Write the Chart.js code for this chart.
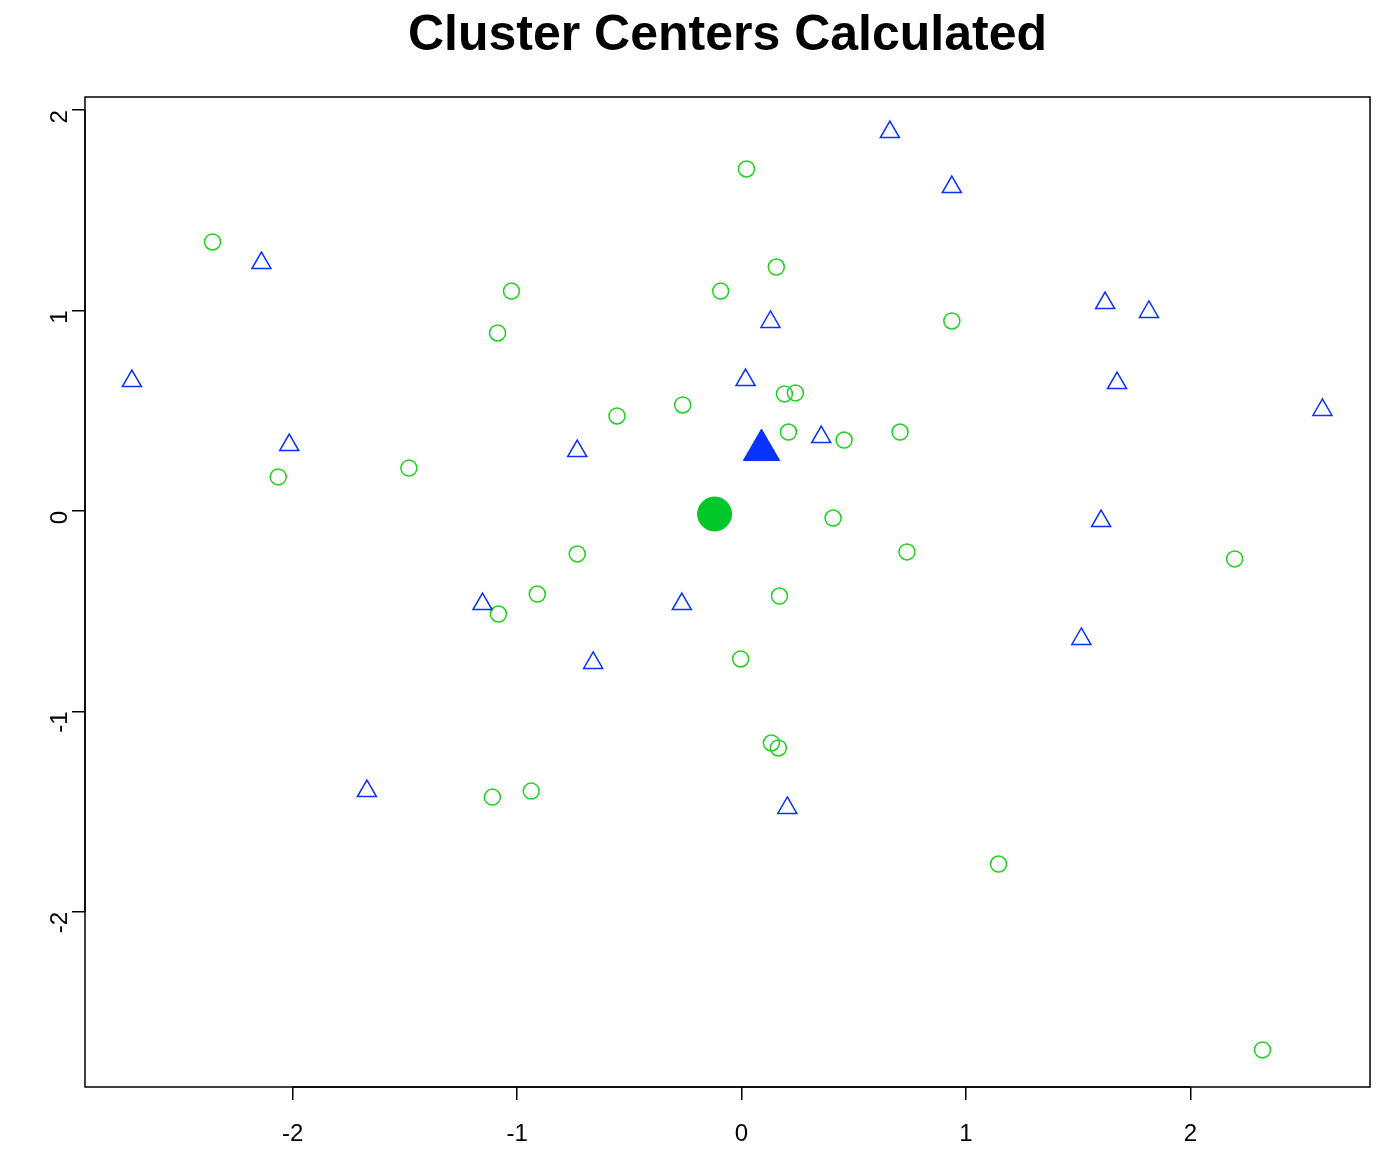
<!DOCTYPE html>
<html><head><meta charset="utf-8">
<script src="https://cdn.jsdelivr.net/npm/chart.js@4/dist/chart.umd.min.js"></script>
<style>html,body{margin:0;padding:0;background:#fff}#w{width:1392px;height:1154px}</style>
</head><body><div id="w"><canvas id="c"></canvas></div>
<script>
const titleText = "Cluster Centers Calculated";
const tickValues = [-2, -1, 0, 1, 2];
const triX = [-2.716,-2.139,-2.015,-1.669,-1.154,-0.732,-0.661,-0.266,0.018,0.129,0.204,0.355,0.661,0.937,1.620,1.815,1.673,2.588,1.602,1.514];
const triY = [0.648,1.237,0.329,-1.397,-0.464,0.299,-0.758,-0.464,0.653,0.943,-1.481,0.369,1.890,1.616,1.037,0.993,0.638,0.504,-0.05,-0.638];
const cirX = [-2.357,-2.064,-1.482,-1.025,-1.087,-0.555,-0.262,0.022,0.155,-0.093,0.191,0.240,0.209,0.457,0.706,0.937,0.408,0.737,-0.732,-0.910,-1.083,0.169,-0.004,0.133,0.164,-0.937,-1.110,1.145,2.197,2.321];
const cirY = [1.342,0.170,0.214,1.097,0.888,0.474,0.529,1.706,1.217,1.097,0.584,0.589,0.394,0.354,0.394,0.948,-0.035,-0.204,-0.214,-0.414,-0.514,-0.424,-0.738,-1.157,-1.182,-1.397,-1.427,-1.761,-0.239,-2.688];
const centerTri = [0.089, 0.304];
const centerCir = [-0.120, -0.015];
const pts = (xs, ys) => xs.map((x, i) => ({x, y: ys[i]}));
const BLUE = '#0a32ff', GREEN = '#1ed21e';

const deco = {
  id: 'deco',
  afterDraw(ch) {
    const c = ch.ctx, a = ch.chartArea;
    c.save();
    c.strokeStyle = '#000'; c.lineWidth = 1.5;
    c.strokeRect(a.left, a.top, a.right - a.left, a.bottom - a.top);
    const xs = ch.scales.x, ys = ch.scales.y;
    c.beginPath();
    c.moveTo(xs.getPixelForValue(-2), a.bottom); c.lineTo(xs.getPixelForValue(2), a.bottom);
    c.moveTo(a.left, ys.getPixelForValue(-2)); c.lineTo(a.left, ys.getPixelForValue(2));
    c.stroke();
    c.fillStyle = '#000';
    c.font = 'bold 50px "Liberation Sans", Arial, sans-serif';
    c.textAlign = 'center'; c.textBaseline = 'middle';
    c.fillText(titleText, (a.left + a.right) / 2, 36);
    c.restore();
  }
};

new Chart(document.getElementById('c'), {
  type: 'scatter',
  data: { datasets: [
    { data: pts(triX, triY), pointStyle: 'triangle', pointRadius: 11, borderColor: BLUE, backgroundColor: 'rgba(0,0,0,0)', borderWidth: 1.5 },
    { data: pts(cirX, cirY), pointStyle: 'circle', pointRadius: 8, borderColor: GREEN, backgroundColor: 'rgba(0,0,0,0)', borderWidth: 1.5 },
    { data: [{x: centerTri[0], y: centerTri[1]}], pointStyle: 'triangle', pointRadius: 21, borderColor: BLUE, backgroundColor: BLUE, borderWidth: 1 },
    { data: [{x: centerCir[0], y: centerCir[1]}], pointStyle: 'circle', pointRadius: 17, borderColor: '#00c82a', backgroundColor: '#00c82a', borderWidth: 1 }
  ]},
  options: {
    responsive: true, maintainAspectRatio: false, animation: false,
    layout: { padding: { top: 97, right: 17, left: 0, bottom: 0 } },
    plugins: { legend: { display: false }, tooltip: { enabled: false } },
    scales: {
      x: { min: -2.925, max: 2.80,
        afterBuildTicks: s => { s.ticks = tickValues.map(v => ({value: v})); },
        afterFit: s => { s.height = 67; },
        border: { display: false },
        grid: { drawOnChartArea: false, tickLength: 13, color: '#000', lineWidth: 1.5 },
        ticks: { color: '#000', font: { size: 24, family: '"Liberation Sans", Arial' }, padding: 20, maxRotation: 0 } },
      y: { min: -2.873, max: 2.065,
        afterBuildTicks: s => { s.ticks = tickValues.map(v => ({value: v})); },
        afterFit: s => { s.width = 85; },
        border: { display: false },
        grid: { drawOnChartArea: false, tickLength: 13, color: '#000', lineWidth: 1.5 },
        ticks: { color: '#000', font: { size: 24, family: '"Liberation Sans", Arial' }, padding: 12, minRotation: 90, maxRotation: 90 } }
    }
  },
  plugins: [deco]
});
</script></body></html>
